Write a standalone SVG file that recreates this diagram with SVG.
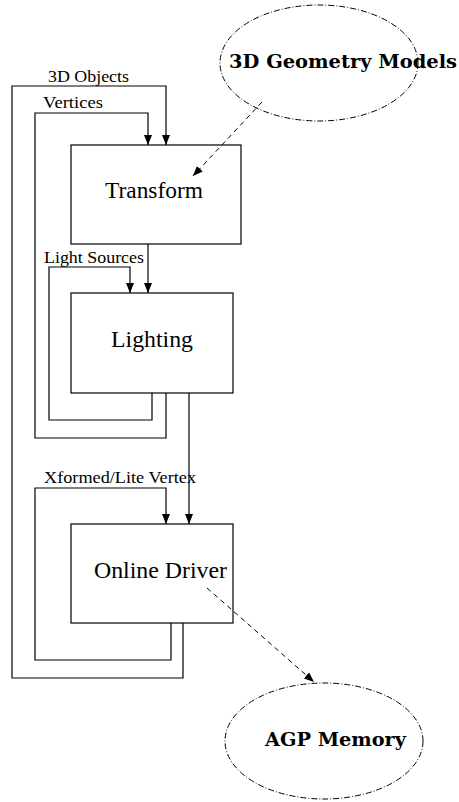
<svg xmlns="http://www.w3.org/2000/svg" width="459" height="802" viewBox="0 0 459 802">
<style>
.box{fill:#fff;stroke:#000;stroke-width:1.2}
.ln{fill:none;stroke:#000;stroke-width:1.2}
.dash{fill:none;stroke:#000;stroke-width:1;stroke-dasharray:5 4}
.ell{fill:none;stroke:#000;stroke-width:1;stroke-dasharray:6 2 1 2}
.lbl{font-family:"Liberation Serif",serif;font-size:17.5px;fill:#000}
.big{font-family:"Liberation Serif",serif;font-size:23.5px;fill:#000}
.bold{font-family:"DejaVu Serif",serif;font-weight:bold;font-size:19px;fill:#000}
</style>
<defs>
<marker id="ah" markerWidth="10" markerHeight="10" refX="10" refY="4" orient="auto" markerUnits="userSpaceOnUse">
<path d="M0,0 L10,4 L0,8 Z" fill="#000"/>
</marker>
</defs>
<g id="transform">
<rect class="box" x="71" y="145" width="170" height="99"/>
<text class="big" x="105" y="198" textLength="98" lengthAdjust="spacingAndGlyphs">Transform</text>
</g>
<g id="lighting">
<rect class="box" x="71" y="293" width="162" height="100"/>
<text class="big" x="111" y="347" textLength="82" lengthAdjust="spacingAndGlyphs">Lighting</text>
</g>
<g id="online-driver">
<rect class="box" x="71" y="524" width="162" height="99"/>
<text class="big" x="94" y="578" textLength="133" lengthAdjust="spacingAndGlyphs">Online Driver</text>
</g>
<g id="geometry-models">
<ellipse class="ell" cx="319" cy="63" rx="99" ry="58"/>
<text class="bold" x="229" y="68" textLength="228" lengthAdjust="spacingAndGlyphs">3D Geometry Models</text>
</g>
<g id="agp-memory">
<ellipse class="ell" cx="324" cy="741" rx="99" ry="58"/>
<text class="bold" x="265" y="746" textLength="141" lengthAdjust="spacingAndGlyphs">AGP Memory</text>
</g>
<g id="connectors">
<polyline class="ln" points="183,623 183,678 12,678 12,86 166,86 166,145" marker-end="url(#ah)"/>
<polyline class="ln" points="166,393 166,438 35,438 35,113 148,113 148,145" marker-end="url(#ah)"/>
<polyline class="ln" points="152,393 152,420 49,420 49,267 130,267 130,293" marker-end="url(#ah)"/>
<line class="ln" x1="148" y1="244" x2="148" y2="293" marker-end="url(#ah)"/>
<line class="ln" x1="189" y1="393" x2="189" y2="524" marker-end="url(#ah)"/>
<polyline class="ln" points="171,623 171,660 35,660 35,488 166,488 166,524" marker-end="url(#ah)"/>
<line class="dash" x1="262" y1="102" x2="193" y2="176" marker-end="url(#ah)"/>
<line class="dash" x1="207" y1="588" x2="314" y2="682" marker-end="url(#ah)"/>
<text class="lbl" x="48" y="82" textLength="81" lengthAdjust="spacingAndGlyphs">3D Objects</text>
<text class="lbl" x="43" y="108" textLength="60" lengthAdjust="spacingAndGlyphs">Vertices</text>
<text class="lbl" x="44" y="263" textLength="100" lengthAdjust="spacingAndGlyphs">Light Sources</text>
<text class="lbl" x="44" y="483" textLength="152" lengthAdjust="spacingAndGlyphs">Xformed/Lite Vertex</text>
</g>
</svg>
